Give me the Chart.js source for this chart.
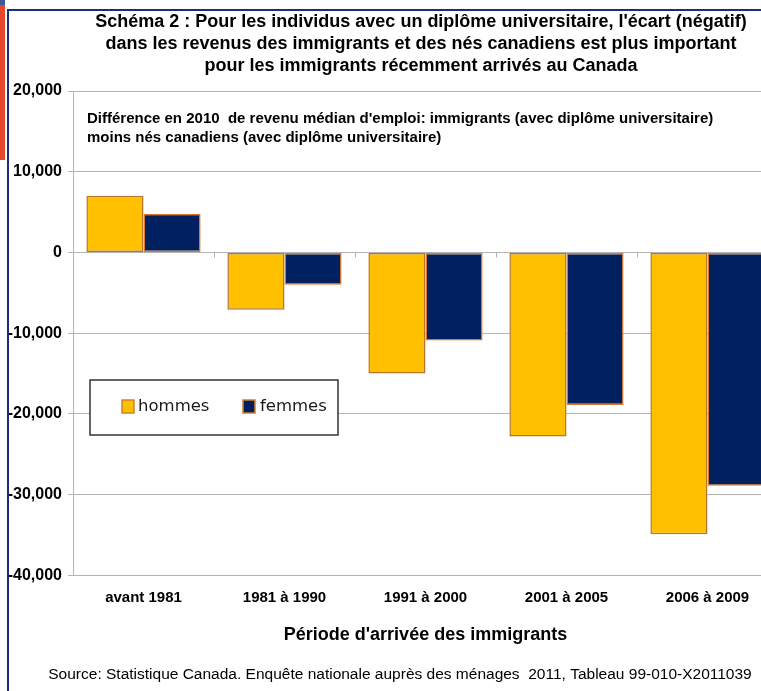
<!DOCTYPE html>
<html>
<head>
<meta charset="utf-8">
<script src="https://cdn.jsdelivr.net/npm/chart.js@4"></script>
<style>
  body { margin: 0; background: #fff; overflow: hidden; width: 761px; height: 691px; position: relative; }
  #wrap { position: absolute; left: 0; top: 0; width: 842px; height: 691px; }
  .frameTop { position: absolute; left: 7px; top: 9px; width: 760px; height: 2px; background: #1f2a7a; }
  .frameLeft { position: absolute; left: 7px; top: 9px; width: 2px; height: 682px; background: #1f2a7a; }
  .redStrip { position: absolute; left: 0; top: 5px; width: 5px; height: 155px; background: #e8472b; }
  .blueStrip { position: absolute; left: 0; top: 0; width: 5px; height: 5px; background: #3a5aa0; }
</style>
</head>
<body>
<div id="wrap"><canvas id="chart"></canvas></div>
<div class="frameTop"></div>
<div class="frameLeft"></div>
<div class="redStrip"></div>
<div class="blueStrip"></div>
<script>
const periodes = ["avant 1981", "1981 à 1990", "1991 à 2000", "2001 à 2005", "2006 à 2009"];
const hommes = [7000, -7100, -15000, -22800, -34900];
const femmes = [4800, -4000, -10900, -18900, -28900];
const yTicks = [20000, 10000, 0, -10000, -20000, -30000, -40000];

const titre = ["Schéma 2 : Pour les individus avec un diplôme universitaire, l'écart (négatif)",
  "dans les revenus des immigrants et des nés canadiens est plus important",
  "pour les immigrants récemment arrivés au Canada"];
const note = ["Différence en 2010  de revenu médian d'emploi: immigrants (avec diplôme universitaire)",
  "moins nés canadiens (avec diplôme universitaire)"];
const source = "Source: Statistique Canada. Enquête nationale auprès des ménages  2011, Tableau 99-010-X2011039";

const FONT = "'Liberation Sans', Arial, sans-serif";

// titre, note, légende encadrée, source et petites graduations sur l'axe 0
const extras = {
  id: 'extras',
  afterDraw(chart) {
    const ctx = chart.ctx;
    const area = chart.chartArea;
    const y = chart.scales.y;
    ctx.save();

    // graduations de catégories sur la ligne 0
    const y0 = y.getPixelForValue(0);
    const w = (area.right - area.left) / periodes.length;
    ctx.strokeStyle = '#b0b0b0';
    ctx.lineWidth = 1;
    for (let i = 1; i < periodes.length; i++) {
      const px = Math.round(area.left + i * w) + 0.5;
      ctx.beginPath();
      ctx.moveTo(px, y0);
      ctx.lineTo(px, y0 + 5);
      ctx.stroke();
    }

    // titre
    ctx.fillStyle = '#000';
    ctx.textBaseline = 'middle';
    ctx.textAlign = 'center';
    ctx.font = "bold 18px " + FONT;
    titre.forEach((t, i) => ctx.fillText(t, 421, 22 + i * 22));

    // note
    ctx.font = "bold 15px " + FONT;
    ctx.textAlign = 'left';
    ctx.fillText(note[0], 87, 119);
    ctx.fillText(note[1], 87, 138);

    // légende
    ctx.fillStyle = '#fff';
    ctx.fillRect(90, 380, 248, 55);
    ctx.strokeStyle = '#333';
    ctx.lineWidth = 1.5;
    ctx.strokeRect(90, 380, 248, 55);
    const items = [[122, 138], [243, 260]];
    chart.data.datasets.forEach((ds, i) => {
      ctx.fillStyle = ds.backgroundColor;
      ctx.fillRect(items[i][0], 400, 12, 13);
      ctx.strokeStyle = '#d08030';
      ctx.lineWidth = 1.5;
      ctx.strokeRect(items[i][0], 400, 12, 13);
      ctx.fillStyle = '#1a1a1a';
      ctx.font = "16.5px 'DejaVu Sans', sans-serif";
      ctx.fillText(ds.label, items[i][1], 407);
    });

    // source
    ctx.fillStyle = '#000';
    ctx.font = "15.5px " + FONT;
    ctx.textAlign = 'center';
    ctx.fillText(source, 400, 675);
    ctx.restore();
  }
};

new Chart(document.getElementById('chart'), {
  type: 'bar',
  data: {
    labels: periodes,
    datasets: [{
      label: "hommes",
      data: hommes,
      backgroundColor: '#FFC000',
      borderColor: '#b8732c',
      borderWidth: 1.5,
      borderSkipped: false
    }, {
      label: "femmes",
      data: femmes,
      backgroundColor: '#002060',
      borderColor: '#d9782a',
      borderWidth: 1.5,
      borderSkipped: false
    }]
  },
  options: {
    responsive: true,
    maintainAspectRatio: false,
    animation: false,
    categoryPercentage: 0.81,
    barPercentage: 1.0,
    layout: { padding: { left: 0, right: 64, top: 91, bottom: 45 } },
    plugins: {
      legend: { display: false },
      tooltip: { enabled: false },
      title: { display: false }
    },
    scales: {
      x: {
        grid: { display: false },
        border: { display: false },
        ticks: { color: '#000', font: { family: FONT, size: 15, weight: 'bold' }, padding: 5, maxRotation: 0 },
        title: {
          display: true,
          text: "Période d'arrivée des immigrants",
          color: '#000',
          font: { family: FONT, size: 18, weight: 'bold' },
          padding: { top: 13, bottom: 0 }
        }
      },
      y: {
        min: -40000,
        max: 20000,
        afterFit(scale) { scale.width = 73; },
        afterBuildTicks(scale) { scale.ticks = yTicks.map(v => ({ value: v })); },
        grid: { color: '#b4b4b4', lineWidth: 1, tickLength: 5 },
        border: { color: '#b4b4b4' },
        ticks: {
          color: '#000',
          padding: 6,
          font: { family: FONT, size: 16, weight: 'bold' },
          callback: v => v.toLocaleString('en-US')
        }
      }
    }
  },
  plugins: [extras]
});
</script>
</body>
</html>
